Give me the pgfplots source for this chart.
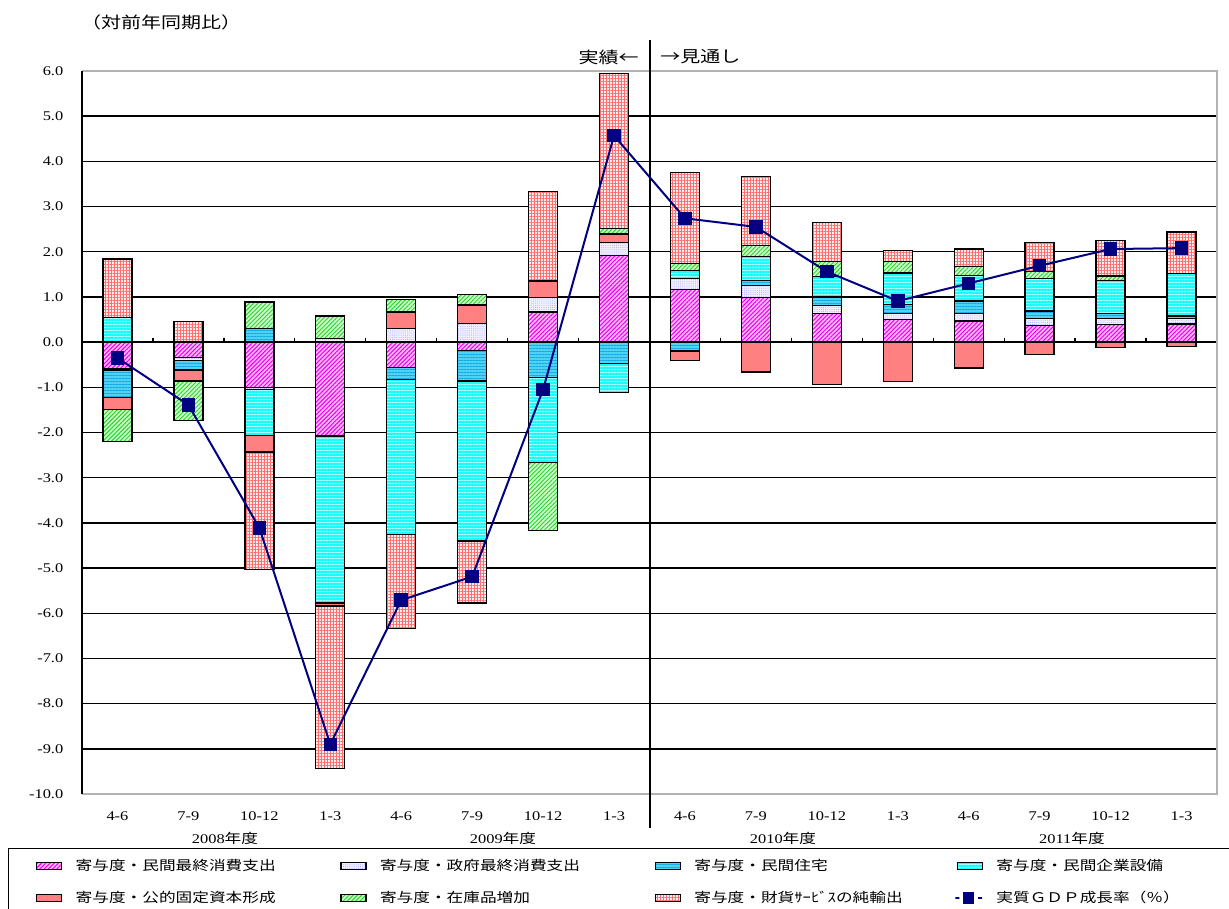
\documentclass[border=0pt]{standalone}
\usepackage{fontspec}
\setmainfont{Liberation Serif}[FakeStretch=1.23]
\newfontfamily\jp{Noto Sans CJK JP}[FakeStretch=1.25]
\usepackage{pgfplots}
\usepackage{pgfplotstable}
\pgfplotsset{compat=1.18}
\usetikzlibrary{patterns.meta}

\definecolor{navy}{RGB}{0,0,128}
\definecolor{mBase}{RGB}{255,190,255}
\definecolor{mLine}{RGB}{240,0,240}
\definecolor{lBase}{RGB}{240,240,255}
\definecolor{lLine}{RGB}{160,160,250}
\definecolor{bBase}{RGB}{80,210,245}
\definecolor{bLine}{RGB}{20,170,225}
\definecolor{cBase}{RGB}{30,250,250}
\definecolor{cLine}{RGB}{175,255,255}
\definecolor{sFill}{RGB}{255,128,128}
\definecolor{gBase}{RGB}{205,255,205}
\definecolor{gLine}{RGB}{40,210,40}
\definecolor{pBase}{RGB}{255,235,235}
\definecolor{pLine}{RGB}{255,110,110}

\tikzset{
  barbase/.style={draw=black, line width=1pt},
  barM/.style={barbase, preaction={fill=mBase}, pattern={Lines[angle=45,distance=2.25pt,line width=0.8pt]}, pattern color=mLine},
  barL/.style={barbase, preaction={fill=lBase}, pattern={Dots[distance=1.6pt,radius=0.35pt]}, pattern color=lLine},
  barB/.style={barbase, preaction={fill=bBase}, pattern={Lines[angle=0,distance=2.25pt,line width=0.6pt]}, pattern color=bLine},
  barC/.style={barbase, preaction={fill=cBase}, pattern={Lines[angle=0,distance=2.25pt,line width=0.6pt]}, pattern color=cLine},
  barS/.style={barbase, fill=sFill},
  barG/.style={barbase, preaction={fill=gBase}, pattern={Lines[angle=45,distance=2.25pt,line width=0.7pt]}, pattern color=gLine},
  barP/.style={barbase, preaction={fill=pBase}, pattern={Hatch[angle=0,distance=2.25pt,line width=0.45pt]}, pattern color=pLine},
}

% positive parts of the contributions
\pgfplotstableread{
x  m     l     b     c     s     g     p
0  0     0     0     0.54  0     0     1.30
1  0     0     0     0     0     0     0.46
2  0     0     0.30  0     0     0.59  0
3  0     0.08  0     0     0     0.50  0
4  0     0.30  0     0     0.37  0.27  0
5  0     0.41  0     0     0.41  0.24  0
6  0.67  0.32  0     0     0.36  0     1.99
7  1.92  0.28  0     0     0.19  0.13  3.43
8  1.16  0.25  0     0.17  0     0.16  2.01
9  0.99  0.26  0.12  0.53  0     0.24  1.52
10 0.63  0.18  0.19  0.45  0     0.34  0.85
11 0.50  0.13  0.21  0.69  0     0.26  0.24
12 0.47  0.16  0.28  0.57  0     0.20  0.38
13 0.37  0.15  0.17  0.72  0     0.16  0.63
14 0.39  0.14  0.10  0.74  0     0.09  0.79
15 0.40  0.12  0.06  0.94  0     0     0.92
}\postab

% negative parts of the contributions
\pgfplotstableread{
x  m      l      b      c      s      g      p
0  -0.58  -0.04  -0.60  0      -0.27  -0.71  0
1  -0.34  -0.06  -0.20  -0.02  -0.24  -0.87  0
2  -1.00  -0.05  0      -1.01  -0.37  0      -2.60
3  -2.08  0      0      -3.69  -0.07  0      -3.59
4  -0.56  0      -0.27  -3.42  0      0      -2.09
5  -0.18  0      -0.68  -3.54  0      0      -1.37
6  0      0      -0.78  -1.89  0      -1.50  0
7  0      0      -0.47  -0.65  0      0      0
8  0      0      -0.20  0      -0.20  0      0
9  0      0      0      0      -0.66  0      0
10 0      0      0      0      -0.94  0      0
11 0      0      0      0      -0.87  0      0
12 0      0      0      0      -0.57  0      0
13 0      0      0      0      -0.27  0      0
14 0      0      0      0      -0.12  0      0
15 0      0      0      0      -0.09  0      0
}\negtab

\pgfplotstableread{
x  y
0  -0.35
1  -1.39
2  -4.11
3  -8.90
4  -5.71
5  -5.19
6  -1.05
7  4.57
8  2.74
9  2.55
10 1.56
11 0.91
12 1.30
13 1.69
14 2.06
15 2.08
}\gdptab

\pgfplotsset{
  common/.style={
    at={(61.5pt,-595.5pt)}, anchor=south west,
    scale only axis, width=851.25pt, height=542.25pt,
    xmin=-0.5, xmax=15.5, ymin=-10, ymax=6,
  },
}

\begin{document}
\begin{tikzpicture}
% ---------- axis 1: grid, ticks, positive parts, legend
\begin{axis}[
  common,
  ybar stacked, bar width=21.75pt,
  xtick={0,...,15},
  xticklabels={4-6,7-9,10-12,1-3,4-6,7-9,10-12,1-3,4-6,7-9,10-12,1-3,4-6,7-9,10-12,1-3},
  ytick={-10,-9,...,6},
  yticklabels={-10.0,-9.0,-8.0,-7.0,-6.0,-5.0,-4.0,-3.0,-2.0,-1.0,0.0,1.0,2.0,3.0,4.0,5.0,6.0},
  major tick length=0pt,
  axis line style={draw=none},
  ymajorgrids, major grid style={black, line width=1.1pt},
  tick label style={font=\fontsize{10}{12}\selectfont},
  xticklabel style={anchor=center, yshift=-16.5pt},
  yticklabel style={anchor=east, xshift=-10.5pt},
  legend columns=4,
  legend cell align=left,
  legend style={at={(-0.0652,-0.0747)}, anchor=north west, draw=black, line width=1.1pt,
    font=\jp\fontsize{10}{12}\selectfont, inner xsep=20.5pt, inner ysep=6pt,
    row sep=10pt, column sep=0pt, nodes={inner sep=2pt}},
  legend image code/.code={\draw[#1] (0pt,-2.5pt) rectangle (18.75pt,2.5pt);},
]
\addplot[barM] table[x=x,y=m]{\postab};
\addlegendentry{\hspace*{8pt}\makebox[196.5pt][l]{寄与度・民間最終消費支出}}
\addplot[barL] table[x=x,y=l]{\postab};
\addlegendentry{\hspace*{8pt}\makebox[204pt][l]{寄与度・政府最終消費支出}}
\addplot[barB] table[x=x,y=b]{\postab};
\addlegendentry{\hspace*{8pt}\makebox[193pt][l]{寄与度・民間住宅}}
\addplot[barC] table[x=x,y=c]{\postab};
\addlegendentry{\hspace*{8pt}\makebox[195pt][l]{寄与度・民間企業設備}}
\addplot[barS] table[x=x,y=s]{\postab};
\addlegendentry{\hspace*{8pt}\makebox[196.5pt][l]{寄与度・公的固定資本形成}}
\addplot[barG] table[x=x,y=g]{\postab};
\addlegendentry{\hspace*{8pt}\makebox[204pt][l]{寄与度・在庫品増加}}
\addplot[barP] table[x=x,y=p]{\postab};
\addlegendentry{\hspace*{8pt}\makebox[193pt][l]{寄与度・財貨ｻｰﾋﾞｽの純輸出}}
\addlegendimage{navy, line width=1.5pt, mark=square*, mark size=3.5pt, mark options={solid,fill=navy}, line legend}
\addlegendentry{\hspace*{8pt}\makebox[195pt][l]{実質ＧＤＰ成長率（％）}}
\end{axis}

% ---------- axis 2: negative parts
\begin{axis}[
  common, hide axis,
  ybar stacked, bar width=21.75pt,
]
\addplot[barM] table[x=x,y=m]{\negtab};
\addplot[barL] table[x=x,y=l]{\negtab};
\addplot[barB] table[x=x,y=b]{\negtab};
\addplot[barC] table[x=x,y=c]{\negtab};
\addplot[barS] table[x=x,y=s]{\negtab};
\addplot[barG] table[x=x,y=g]{\negtab};
\addplot[barP] table[x=x,y=p]{\negtab};
\end{axis}

% ---------- axis 3: frame, divider, GDP line
\begin{axis}[common, hide axis, clip=false]
\draw[gray!60, line width=1.6pt] (rel axis cs:0,0) -- (rel axis cs:1,0) -- (rel axis cs:1,1) -- (rel axis cs:0,1);
\draw[black, line width=1.5pt] (rel axis cs:0,0) -- (rel axis cs:0,1);
\draw[black, line width=1.5pt] (axis cs:7.5,6.69) -- (axis cs:7.5,-10.75);
\pgfplotsinvokeforeach{0,...,14}{\draw[black, line width=1pt] (axis cs:#1.5,0) -- ++(0pt,3pt);}
\addplot[navy, line width=1.5pt, mark=square*, mark size=4.3pt, mark options={solid,fill=navy}]
  table[x=x,y=y]{\gdptab};
\end{axis}

\begin{scope}[x=0.75pt,y=-0.75pt]
\node[font=\jp\fontsize{12}{14}\selectfont] at (161,22) {（対前年同期比）};
\node[font=\jp\fontsize{12}{14}\selectfont, anchor=east, inner sep=0pt] at (639,57) {実績←};
\node[font=\jp\fontsize{12}{14}\selectfont, anchor=west, inner sep=0pt] at (660,57) {→見通し};
\node[font=\fontsize{10}{12}\selectfont] at (225,838) {2008{\jp 年度}};
\node[font=\fontsize{10}{12}\selectfont] at (503,838) {2009{\jp 年度}};
\node[font=\fontsize{10}{12}\selectfont] at (783,838) {2010{\jp 年度}};
\node[font=\fontsize{10}{12}\selectfont] at (1072,838) {2011{\jp 年度}};
\end{scope}

\pgfresetboundingbox
\path[use as bounding box] (0pt,0pt) rectangle (921.75pt,-681.75pt);
\end{tikzpicture}
\end{document}
